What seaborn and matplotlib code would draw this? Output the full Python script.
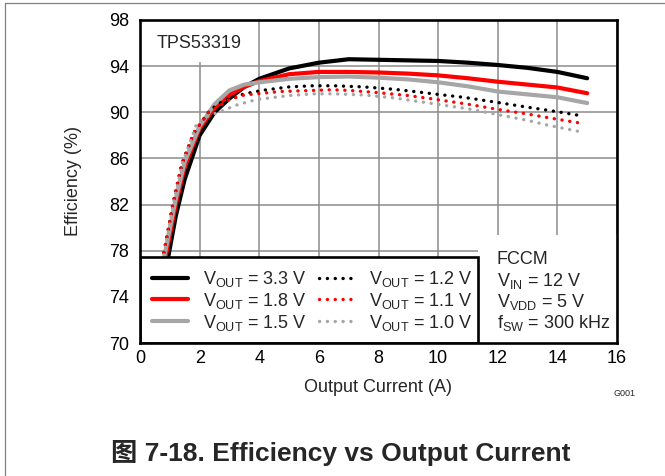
import matplotlib
matplotlib.use("Agg")
import matplotlib.pyplot as plt
import seaborn as sns
from matplotlib.patches import Rectangle
from matplotlib.lines import Line2D

# ---------------- data ----------------
labels = [r"V$_{\mathrm{OUT}}$ = 3.3 V", r"V$_{\mathrm{OUT}}$ = 1.8 V", r"V$_{\mathrm{OUT}}$ = 1.5 V",
          r"V$_{\mathrm{OUT}}$ = 1.2 V", r"V$_{\mathrm{OUT}}$ = 1.1 V", r"V$_{\mathrm{OUT}}$ = 1.0 V"]

x_33 = [0.7, 0.95, 1.2, 1.5, 2.0, 2.5, 3.0, 3.5, 4.0, 5.0, 6.0, 7.0, 8.0, 9.0, 10.0, 11.0, 12.0, 13.0, 14.0, 15.0]
y_33 = [74.5, 77.5, 81.0, 84.2, 88.0, 90.0, 91.2, 92.2, 92.9, 93.8, 94.3, 94.6, 94.55, 94.5, 94.45, 94.3, 94.1, 93.85, 93.5, 92.95]

x_18 = [0.7, 0.9, 1.2, 1.5, 2.0, 2.5, 3.0, 3.5, 4.0, 5.0, 6.0, 7.0, 8.0, 9.0, 10.0, 11.0, 12.0, 13.0, 14.0, 15.0]
y_18 = [75.5, 78.0, 82.0, 85.3, 88.6, 90.4, 91.5, 92.2, 92.7, 93.3, 93.5, 93.5, 93.45, 93.35, 93.2, 92.95, 92.65, 92.4, 92.15, 91.65]

x_15 = [0.7, 0.9, 1.2, 1.5, 2.0, 2.5, 3.0, 3.5, 4.0, 5.0, 6.0, 7.0, 8.0, 9.0, 10.0, 11.0, 12.0, 13.0, 14.0, 15.0]
y_15 = [76.0, 78.6, 82.5, 85.7, 88.8, 90.7, 91.9, 92.4, 92.6, 92.9, 93.05, 93.1, 93.0, 92.85, 92.6, 92.25, 91.8, 91.55, 91.3, 90.8]

x_12 = [0.7, 0.85, 1.1, 1.4, 1.8, 2.35, 2.8, 3.5, 4.1, 5.0, 5.8, 6.5, 7.5, 8.5, 9.2, 10.0, 10.85, 12.0, 13.1, 14.0, 14.8]
y_12 = [76.5, 78.5, 82.0, 85.5, 88.2, 90.2, 91.0, 91.6, 91.9, 92.2, 92.3, 92.3, 92.2, 92.0, 91.8, 91.55, 91.3, 90.85, 90.4, 90.05, 89.7]

x_11 = [0.7, 0.85, 1.1, 1.4, 1.8, 2.3, 3.0, 3.5, 4.7, 6.4, 7.0, 8.0, 9.0, 9.7, 11.0, 12.0, 13.0, 13.65, 14.8]
y_11 = [76.5, 78.5, 82.0, 85.5, 88.2, 90.0, 91.1, 91.5, 91.8, 91.95, 91.9, 91.7, 91.45, 91.2, 90.7, 90.25, 89.85, 89.55, 89.05]

x_10 = [0.7, 0.84, 1.12, 1.43, 1.9, 2.3, 2.7, 3.2, 3.9, 5.0, 5.8, 6.5, 7.5, 8.5, 9.7, 11.0, 12.0, 13.0, 13.65, 14.9]
y_10 = [76.3, 78.1, 82.1, 85.6, 89.0, 89.7, 90.05, 90.6, 91.1, 91.45, 91.6, 91.6, 91.5, 91.25, 90.8, 90.3, 89.8, 89.3, 88.9, 88.25]

x_ticks = [0, 2, 4, 6, 8, 10, 12, 14, 16]
y_ticks = [70, 74, 78, 82, 86, 90, 94, 98]

# ---------------- style ----------------
sns.set_style("white")
plt.rcParams["font.family"] = ["Liberation Sans", "Noto Sans CJK SC", "DejaVu Sans"]
plt.rcParams["mathtext.fontset"] = "custom"
plt.rcParams["mathtext.rm"] = "Liberation Sans"
plt.rcParams["mathtext.it"] = "Liberation Sans:italic"
plt.rcParams["mathtext.bf"] = "Liberation Sans:bold"

fig = plt.figure(figsize=(6.65, 4.76), dpi=100)
W, H = 665, 476
ax = fig.add_axes([140 / W, 1 - 343 / H, 477 / W, 323 / H])

BLACK, RED, GRAY = "#000000", "#ff0000", "#a6a6a6"
series = [
    (x_33, y_33, BLACK, "-"),
    (x_18, y_18, RED, "-"),
    (x_15, y_15, GRAY, "-"),
    (x_12, y_12, BLACK, ":"),
    (x_11, y_11, RED, ":"),
    (x_10, y_10, GRAY, ":"),
]
for (xs, ys, c, st), lab in zip(series, labels):
    if st == "-":
        sns.lineplot(x=xs, y=ys, ax=ax, color=c, linewidth=3.0, label=lab, zorder=3)
    else:
        sns.lineplot(x=xs, y=ys, ax=ax, color=c, linewidth=2.4, label=lab, zorder=3,
                     linestyle=(0, (0.05, 2.3)), dash_capstyle="round")

for ln in ax.lines:
    if ln.get_linestyle() not in ("-",):
        ln.set_dash_capstyle("round")
if ax.get_legend() is not None:
    ax.get_legend().remove()

ax.set_xlim(0, 16)
ax.set_ylim(70, 98)
ax.set_xticks(x_ticks)
ax.set_yticks(y_ticks)
ax.grid(True, color="#8c8c8c", linewidth=1.1)
ax.set_axisbelow(True)
for s in ax.spines.values():
    s.set_visible(True)
    s.set_color("black")
    s.set_linewidth(1.9)
    s.set_zorder(12)
ax.tick_params(axis="both", length=0, labelsize=13, colors="black")
ax.tick_params(axis="y", pad=8)
ax.tick_params(axis="x", pad=5)
ax.set_xlabel("Output Current (A)", fontsize=13, labelpad=9)
ax.set_ylabel("Efficiency (%)", fontsize=13, labelpad=19)

# white panels
ax.add_patch(Rectangle((0, (343 - 62) / 323), (255 - 140) / 477, 1, transform=ax.transAxes,
                       facecolor="white", edgecolor="none", zorder=1.5, clip_on=True))
ax.text((157 - 140) / 477, (343 - 43) / 323, "TPS53319", transform=ax.transAxes,
        fontsize=13, ha="left", va="center", zorder=2)

ax.add_patch(Rectangle((338 / 477, 0), 1 - 338 / 477, (343 - 235) / 323, transform=ax.transAxes,
                       facecolor="white", edgecolor="none", zorder=5))
ax.add_patch(Rectangle((0, 0), 338 / 477, (343 - 257) / 323, transform=ax.transAxes,
                       facecolor="white", edgecolor="black", linewidth=1.9, zorder=6))

tx = (497 - 140) / 477
for txt, py in [("FCCM", 259), (r"V$_{\mathrm{IN}}$ = 12 V", 281), (r"V$_{\mathrm{VDD}}$ = 5 V", 302),
                (r"f$_{\mathrm{SW}}$ = 300 kHz", 323)]:
    ax.text(tx, (343 - py) / 323, txt, transform=ax.transAxes, fontsize=13,
            ha="left", va="center", zorder=7)

leg = ax.legend(ax.lines[:6], labels, ncol=2, loc="upper left",
                bbox_to_anchor=((152 - 140) / 477, (343 - 269) / 323),
                frameon=False, fontsize=13, handlelength=2.0, handletextpad=0.8,
                columnspacing=0.7, labelspacing=0.1, borderpad=0, borderaxespad=0)
leg.set_zorder(8)

# footnotes / caption
fig.text(625 / W, 1 - 393 / H, "G001", fontsize=6.5, ha="center", va="center")
fig.text(341 / W, 1 - 453 / H, "图 7-18. Efficiency vs Output Current", fontsize=19,
         fontweight="bold", ha="center", va="center")

# outer page border (left & top)
fig.add_artist(Line2D([5 / W, 5 / W], [0, 1 - 3 / H], transform=fig.transFigure,
                      color="#808080", linewidth=0.9))
fig.add_artist(Line2D([5 / W, 1], [1 - 3 / H, 1 - 3 / H], transform=fig.transFigure,
                      color="#808080", linewidth=0.9))

fig.savefig("out.png", dpi=100)
